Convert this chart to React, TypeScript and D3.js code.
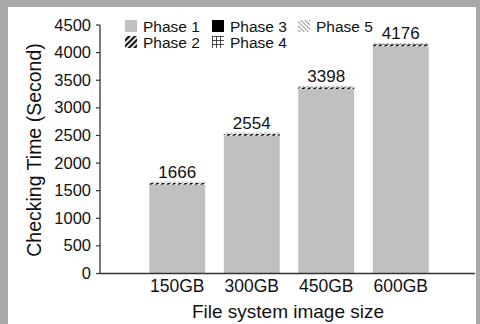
import React, { useEffect, useRef } from "react";
import * as d3 from "d3";

const WIDTH = 480;
const HEIGHT = 324;
const MARGIN = { LEFT: 100, RIGHT: 5, TOP: 25, BOTTOM: 50.5 };

const sizes = ["150GB", "300GB", "450GB", "600GB"];
const phase1 = [1610, 2495, 3340, 4115];
const phase2 = [30, 30, 30, 32];
const phase3 = [2, 3, 3, 4];
const phase4 = [2, 2, 3, 3];
const phase5 = [22, 24, 22, 22];
const yTicks = [0, 500, 1000, 1500, 2000, 2500, 3000, 3500, 4000, 4500];
const phaseNames = ["Phase 1", "Phase 2", "Phase 3", "Phase 4", "Phase 5"];

const FONT = "Liberation Sans, Arial, Helvetica, sans-serif";

export default function App() {
  const ref = useRef<SVGSVGElement>(null);

  useEffect(() => {
    const svg = d3.select(ref.current);
    svg.selectAll("*").remove();

    const defs = svg.append("defs");
    // phase 2: bold diagonal stripes
    const p2 = defs
      .append("pattern")
      .attr("id", "p2")
      .attr("patternUnits", "userSpaceOnUse")
      .attr("width", 4)
      .attr("height", 4)
      .attr("patternTransform", "rotate(45)");
    p2.append("rect").attr("width", 4).attr("height", 4).attr("fill", "#fff");
    p2.append("rect").attr("width", 2.2).attr("height", 4).attr("fill", "#111");
    // phase 4: grid
    const p4 = defs
      .append("pattern")
      .attr("id", "p4")
      .attr("patternUnits", "userSpaceOnUse")
      .attr("width", 4)
      .attr("height", 4);
    p4.append("rect").attr("width", 4).attr("height", 4).attr("fill", "#fff");
    p4.append("path").attr("d", "M0,0.5H4M0.5,0V4").attr("stroke", "#222").attr("stroke-width", 0.8);
    // phase 5: light thin diagonal lines
    const p5 = defs
      .append("pattern")
      .attr("id", "p5")
      .attr("patternUnits", "userSpaceOnUse")
      .attr("width", 3)
      .attr("height", 3)
      .attr("patternTransform", "rotate(-45)");
    p5.append("rect").attr("width", 3).attr("height", 3).attr("fill", "#fff");
    p5.append("rect").attr("width", 1).attr("height", 3).attr("fill", "#999");

    const fills = ["#c0c0c0", "url(#p2)", "#000", "url(#p4)", "url(#p5)"];

    // page frame
    svg.append("rect").attr("width", WIDTH).attr("height", HEIGHT).attr("fill", "#a9a9a9");
    svg.append("rect").attr("x", 8).attr("y", 7).attr("width", 468).attr("height", 317).attr("fill", "#fff");

    const y = d3
      .scaleLinear()
      .domain([0, 4500])
      .range([HEIGHT - MARGIN.BOTTOM, MARGIN.TOP]);
    const x = d3
      .scaleBand()
      .domain(sizes)
      .range([140, 438])
      .paddingInner(0.25)
      .paddingOuter(0.125);

    const rows = sizes.map((s, i) => ({
      size: s,
      p0: phase1[i],
      p1: phase2[i],
      p2: phase3[i],
      p3: phase4[i],
      p4: phase5[i],
    }));
    const stack = d3.stack<any>().keys(["p0", "p1", "p2", "p3", "p4"])(rows);

    const g = svg.append("g");
    stack.forEach((layer, k) => {
      g.append("g")
        .attr("fill", fills[k])
        .selectAll("rect")
        .data(layer)
        .enter()
        .append("rect")
        .attr("x", (d: any) => x(d.data.size)!)
        .attr("width", x.bandwidth())
        .attr("y", (d) => y(d[1]))
        .attr("height", (d) => y(d[0]) - y(d[1]));
    });

    // totals on top
    g.selectAll(".total")
      .data(rows)
      .enter()
      .append("text")
      .attr("x", (d) => x(d.size)! + x.bandwidth() / 2)
      .attr("y", (d) => y(d.p0 + d.p1 + d.p2 + d.p3 + d.p4) - 3.5)
      .attr("text-anchor", "middle")
      .attr("font-family", FONT)
      .attr("font-size", 17)
      .attr("fill", "#111")
      .text((d) => d.p0 + d.p1 + d.p2 + d.p3 + d.p4);

    // axes
    const y0 = y(0);
    svg.append("line")
      .attr("x1", MARGIN.LEFT).attr("x2", 475)
      .attr("y1", y0).attr("y2", y0)
      .attr("stroke", "#333").attr("stroke-width", 1.3);
    svg.append("line")
      .attr("x1", MARGIN.LEFT).attr("x2", MARGIN.LEFT)
      .attr("y1", y(4500)).attr("y2", y0)
      .attr("stroke", "#333").attr("stroke-width", 1.3);

    const yt = svg.append("g").selectAll("g").data(yTicks).enter().append("g");
    yt.append("line")
      .attr("x1", MARGIN.LEFT - 4).attr("x2", MARGIN.LEFT)
      .attr("y1", (d) => y(d)).attr("y2", (d) => y(d))
      .attr("stroke", "#333").attr("stroke-width", 1.2);
    yt.append("text")
      .attr("x", MARGIN.LEFT - 9)
      .attr("y", (d) => y(d) + 5.5)
      .attr("text-anchor", "end")
      .attr("font-family", FONT)
      .attr("font-size", 16.5)
      .attr("fill", "#111")
      .text((d) => d);

    svg.append("g")
      .selectAll("text")
      .data(sizes)
      .enter()
      .append("text")
      .attr("x", (d) => x(d)! + x.bandwidth() / 2)
      .attr("y", 292)
      .attr("text-anchor", "middle")
      .attr("font-family", FONT)
      .attr("font-size", 17.5)
      .attr("fill", "#111")
      .text((d) => d);

    // axis titles
    svg.append("text")
      .attr("x", 288)
      .attr("y", 318)
      .attr("text-anchor", "middle")
      .attr("font-family", FONT)
      .attr("font-size", 19)
      .attr("fill", "#111")
      .text("File system image size");
    svg.append("text")
      .attr("transform", "translate(41,150) rotate(-90)")
      .attr("text-anchor", "middle")
      .attr("font-family", FONT)
      .attr("font-size", 19.5)
      .attr("fill", "#111")
      .text("Checking Time (Second)");

    // legend
    const legendPos = [
      [125, 20], [125, 36], [212, 20], [212, 36], [298, 20],
    ];
    const lg = svg.append("g");
    phaseNames.forEach((name, i) => {
      const [lx, ly] = legendPos[i];
      lg.append("rect")
        .attr("x", lx).attr("y", ly)
        .attr("width", 12).attr("height", 12)
        .attr("fill", fills[i]);
      lg.append("text")
        .attr("x", lx + 18)
        .attr("y", ly + 11.5)
        .attr("font-family", FONT)
        .attr("font-size", 15.5)
        .attr("fill", "#111")
        .text(name);
    });
  });

  return (
    <svg
      ref={ref}
      width={WIDTH}
      height={HEIGHT}
      style={{ position: "absolute", left: 0, top: 0 }}
    />
  );
}
